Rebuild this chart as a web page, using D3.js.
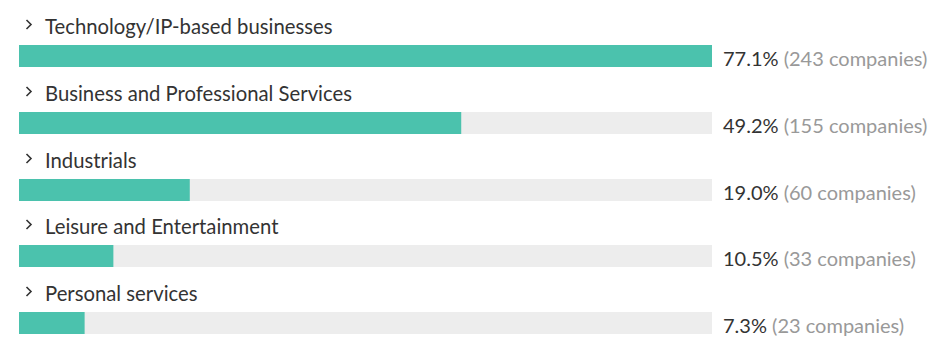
<!DOCTYPE html>
<html><head><meta charset="utf-8">
<script src="https://cdn.jsdelivr.net/npm/d3@7"></script>
<style>body{margin:0;background:#fff;}svg{display:block;font-family:Lato,"Noto Sans",sans-serif;}</style>
</head><body><svg id="c" width="938" height="347"></svg>
<script>
const categories = ["Technology/IP-based businesses","Business and Professional Services","Industrials","Leisure and Entertainment","Personal services"];
const percents = [77.1, 49.2, 19.0, 10.5, 7.3];
const counts = [243, 155, 60, 33, 23];

const svg = d3.select("#c");
const x = d3.scaleLinear().domain([0, d3.max(percents)]).range([19, 712]);
const y = d3.scaleBand().domain(categories).range([45, 45 + 5*66.75]).paddingInner(0).paddingOuter(0);
const barH = 22;
const data = categories.map((c,i)=>({c, p:percents[i], n:counts[i]}));
const g = svg.selectAll("g.row").data(data).join("g").attr("class","row")
  .attr("transform", d=>`translate(0,${Math.round(y(d.c))})`);

g.append("rect").attr("x", x(0)).attr("y",0).attr("width", x.range()[1]-x(0)).attr("height",barH).attr("fill","#ededed");
g.append("rect").attr("x", x(0)).attr("y",0).attr("width", d=>x(d.p)-x(0)).attr("height",barH).attr("fill","#4bc2ad");
g.append("path").attr("d","M26.5,-25 L31,-20.5 L26.5,-16").attr("fill","none").attr("stroke","#333").attr("stroke-width",1.6);
g.append("text").attr("x",45).attr("y",-11).attr("fill","#333").attr("font-size",20.3).text(d=>d.c);
const t = g.append("text").attr("x",723).attr("y",21).attr("font-size",20);
t.append("tspan").attr("fill","#333").text(d=>d.p.toFixed(1)+"%");
t.append("tspan").attr("fill","#999").text(d=>` (${d.n} companies)`);
</script></body></html>
